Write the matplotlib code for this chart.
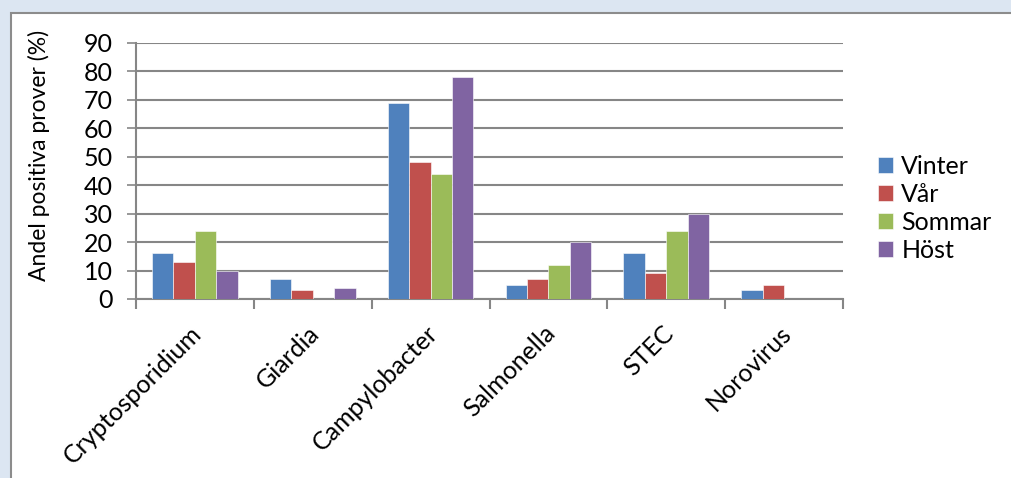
import numpy as np
import matplotlib.pyplot as plt
import matplotlib.transforms as mtransforms
from matplotlib.patches import Rectangle

categories = ['Cryptosporidium', 'Giardia', 'Campylobacter', 'Salmonella', 'STEC', 'Norovirus']
seasons = ['Vinter', 'Vår', 'Sommar', 'Höst']
vinter = [16, 7, 69, 5, 16, 3]
var = [13, 3, 48, 7, 9, 5]
sommar = [24, 0, 44, 12, 24, 0]
host = [10, 4, 78, 20, 30, 0]
colors = ['#4F81BD', '#C0504D', '#9BBB59', '#8064A2']

plt.rcParams['font.family'] = ['Lato', 'DejaVu Sans']

fig = plt.figure(figsize=(10.11, 4.78), dpi=100)
fig.patch.set_facecolor('#DCE6F2')
# white chart panel with grey frame
fig.patches.append(Rectangle((11 / 1011, -0.1), 1.1, 1 - 13 / 478 + 0.1,
                             transform=fig.transFigure, facecolor='white',
                             edgecolor='#8C8C8C', linewidth=1.5, zorder=-1))

ax = fig.add_axes([136 / 1011, 179 / 478, 707 / 1011, 256 / 478])
ax.set_facecolor('none')
ax.set_zorder(2)

x = np.arange(len(categories))
w = 1 / 5.5
for i, (vals, name) in enumerate(zip([vinter, var, sommar, host], seasons)):
    ax.bar(x + (i - 1.5) * w, vals, width=w, color=colors[i], label=name,
           edgecolor='white', linewidth=0.4, zorder=3)

ax.set_xlim(-0.5, len(categories) - 0.5)
ax.set_ylim(0, 90)
ax.set_yticks(range(0, 91, 10))
ax.yaxis.grid(True, color='#868686', linewidth=1.5, zorder=0)
ax.tick_params(axis='y', labelsize=18, length=6.5, width=1.2, color='#868686', pad=10)

ax.set_xticks(x)
ax.set_xticklabels(categories, rotation=45, ha='right', rotation_mode='anchor', fontsize=18)
ax.tick_params(axis='x', which='major', length=0, pad=16)
shift = mtransforms.ScaledTranslation(-0.05, 0, fig.dpi_scale_trans)
for lbl in ax.get_xticklabels():
    lbl.set_transform(lbl.get_transform() + shift)
ax.set_xticks(np.arange(-0.5, len(categories)), minor=True)
ax.tick_params(axis='x', which='minor', length=7, width=1.5, color='#868686')

for side in ['top', 'right']:
    ax.spines[side].set_visible(False)
for side in ['left', 'bottom']:
    ax.spines[side].set_color('#868686')
    ax.spines[side].set_linewidth(1.5)

ax.set_ylabel('Andel positiva prover (%)', fontsize=16.5)
ax.yaxis.set_label_coords(-0.122, 0.56)

ax.legend(loc='center left', bbox_to_anchor=(1.049, 0.355), frameon=False, fontsize=18,
          handlelength=0.6, handleheight=0.6, handletextpad=0.35, labelspacing=0.2,
          borderpad=0, borderaxespad=0)

fig.savefig('out.png', dpi=100, facecolor=fig.get_facecolor())
